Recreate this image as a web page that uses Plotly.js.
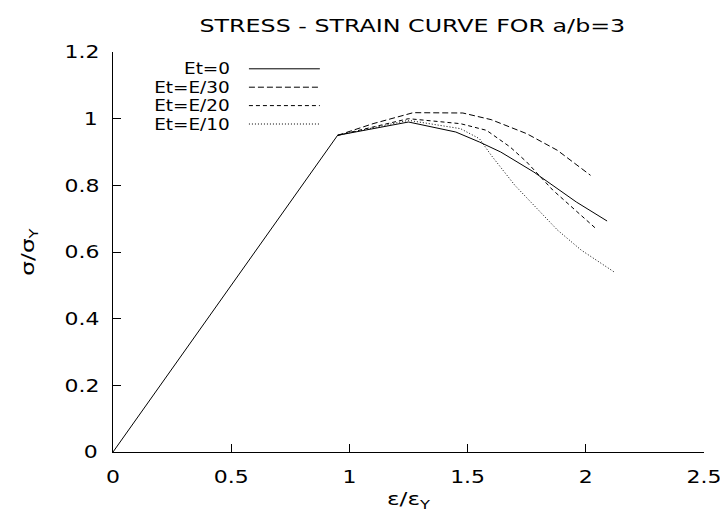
<!DOCTYPE html>
<html>
<head>
<meta charset="utf-8">
<script src="https://cdn.plot.ly/plotly-3.0.1.min.js"></script>
<style>
html,body{margin:0;padding:0;background:#fff;}
#chart{width:720px;height:512px;}
</style>
</head>
<body>
<div id="chart"></div>
<script>
// Elastic segment + Et=0 (solid)
const x_et0 = [0, 0.95, 1.25, 1.45, 1.55, 1.64, 1.78, 1.96, 2.09];
const y_et0 = [0, 0.95, 0.99, 0.96, 0.93, 0.90, 0.84, 0.75, 0.693];
// Et=E/30 (long dashes)
const x_e30 = [0.95, 1.10, 1.27, 1.48, 1.60, 1.75, 1.88, 2.02];
const y_e30 = [0.95, 0.985, 1.018, 1.017, 0.997, 0.955, 0.905, 0.83];
// Et=E/20 (short dashes)
const x_e20 = [0.95, 1.25, 1.47, 1.58, 1.68, 1.75, 1.86, 2.04];
const y_e20 = [0.95, 1.0, 0.985, 0.965, 0.915, 0.87, 0.786, 0.672];
// Et=E/10 (dotted)
const x_e10 = [0.95, 1.25, 1.47, 1.55, 1.60, 1.70, 1.88, 1.98, 2.12];
const y_e10 = [0.95, 0.995, 0.97, 0.94, 0.89, 0.80, 0.666, 0.606, 0.54];

const seriesNames = ["Et=0", "Et=E/30", "Et=E/20", "Et=E/10"];
const xTickVals = [0, 0.5, 1, 1.5, 2, 2.5];
const xTickText = ["0", "0.5", "1", "1.5", "2", "2.5"];
const yTickVals = [0, 0.2, 0.4, 0.6, 0.8, 1, 1.2];
const yTickText = ["0", "0.2", "0.4", "0.6", "0.8", "1", "1.2"];

const FONT = "DejaVu Sans, Liberation Sans, Arial, sans-serif";
const dashes = ["solid", "6px,3px", "4px,3px", "1px,2px"];
const xs = [x_et0, x_e30, x_e20, x_e10];
const ys = [y_et0, y_e30, y_e20, y_e10];

const traces = xs.map((x, i) => ({
  x: x, y: ys[i], type: "scatter", mode: "lines", name: seriesNames[i],
  line: {color: "#000", width: 1, dash: dashes[i]}, showlegend: false
}));

// manual legend (text left, line sample right)
const legRowsY = [0.958, 0.912, 0.866, 0.82];
const annotations = seriesNames.map((n, i) => ({
  text: n, xref: "paper", yref: "paper", x: 0.201, y: legRowsY[i],
  xanchor: "right", yanchor: "middle", showarrow: false,
  font: {family: FONT, size: 16, color: "#000"}
}));
const shapes = seriesNames.map((n, i) => ({
  type: "line", xref: "paper", yref: "paper",
  x0: 0.230, x1: 0.350, y0: legRowsY[i], y1: legRowsY[i],
  line: {color: "#000", width: 1, dash: dashes[i]}
}));

const layout = {
  width: 720, height: 512,
  margin: {l: 113, r: 16, t: 52, b: 60},
  paper_bgcolor: "#fff", plot_bgcolor: "#fff",
  font: {family: FONT, size: 18, color: "#000"},
  title: {text: "STRESS - STRAIN CURVE FOR a/b=3", x: 0.5727, xanchor: "center", y: 0.95, yanchor: "middle",
          font: {family: FONT, size: 18, color: "#000"}},
  xaxis: {range: [0, 2.5], tickvals: xTickVals, ticktext: xTickText,
          ticks: "inside", ticklen: 8, tickcolor: "#000", showline: true, linecolor: "#000", linewidth: 1,
          showgrid: false, zeroline: false, ticklabelstandoff: 8,
          title: {text: "ε/ε<sub>Y</sub>", font: {family: FONT, size: 18}, standoff: 10}},
  yaxis: {range: [0, 1.2], tickvals: yTickVals, ticktext: yTickText,
          ticks: "inside", ticklen: 8, tickcolor: "#000", showline: true, linecolor: "#000", linewidth: 1,
          showgrid: false, zeroline: false, ticklabelstandoff: 12,
          title: {text: "σ/σ<sub>Y</sub>", font: {family: FONT, size: 18}, standoff: 28}},
  annotations: annotations, shapes: shapes, showlegend: false
};

// widen glyphs horizontally (reference font is a wide sans), keeping each text's anchor
function stretch(el, k, mode) {
  const b0 = el.getBBox();
  if (!b0.width) return;
  el.setAttribute("textLength", (b0.width * k).toFixed(2));
  el.setAttribute("lengthAdjust", "spacingAndGlyphs");
  const b1 = el.getBBox();
  let dx;
  if (mode === "right") dx = (b0.x + b0.width) - (b1.x + b1.width);
  else dx = (b0.x + b0.width / 2) - (b1.x + b1.width / 2);
  const x0 = parseFloat(el.getAttribute("x") || "0");
  el.setAttribute("x", (x0 + dx).toFixed(2));
}

Plotly.newPlot("chart", traces, layout, {staticPlot: true, displayModeBar: false}).then(gd => {
  gd.querySelectorAll(".gtitle").forEach(t => stretch(t, 1.32, "center"));
  gd.querySelectorAll(".xtick text, .ytick text").forEach(t => stretch(t, 1.22, "center"));
  gd.querySelectorAll(".xtitle, .ytitle").forEach(t => stretch(t, 1.28, "center"));
  gd.querySelectorAll(".annotation-text").forEach(t => stretch(t, 1.15, "right"));
});
</script>
</body>
</html>
